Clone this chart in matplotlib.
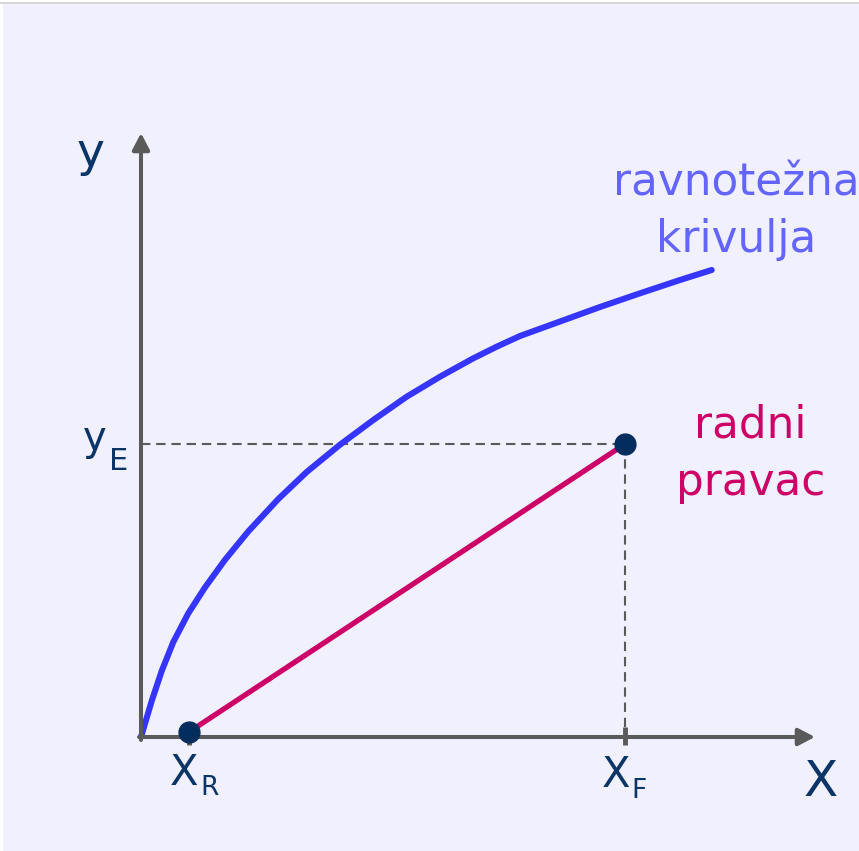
import matplotlib.pyplot as plt
from matplotlib.patches import Rectangle

# --- Podaci (jedinice crteža, ishodište u presjeku osi) ---
curve_x = [0.0, 0.107, 0.207, 0.323, 0.473, 0.64, 0.84, 1.073, 1.373, 1.657,
           1.99, 2.323, 2.657, 2.99, 3.323, 3.557, 3.79, 4.19, 4.59, 4.99,
           5.39, 5.707]
curve_y = [0.0, 0.36, 0.66, 0.95, 1.237, 1.496, 1.772, 2.056, 2.38, 2.65,
           2.923, 3.17, 3.403, 3.603, 3.787, 3.903, 4.01, 4.155, 4.30, 4.437,
           4.57, 4.67]

x_r, y_r = 0.48, 0.05      # početak radnog pravca
x_f, y_e = 4.84, 2.93      # kraj radnog pravca

x_axis_end = 6.74
y_axis_end = 6.04

AXIS = '#5a5a5a'
NAVY = '#0b3566'
DOT = '#032d5c'
BLUE = '#3535ff'
LBLUE = '#6464ff'
RED = '#cc0066'
BG = '#f0f0fe'

fig = plt.figure(figsize=(8.59, 8.51), dpi=100, facecolor='white')
fig.patches.append(Rectangle((3 / 859, 0), 1, 1 - 4 / 851, transform=fig.transFigure,
                             facecolor=BG, edgecolor='none', zorder=-10))
fig.lines.append(plt.Line2D([0, 1], [1 - 3 / 851] * 2, transform=fig.transFigure,
                            color='#cfcfcf', lw=1.2, zorder=-9))

ax = fig.add_axes([0, 0, 1, 1])
ax.set_xlim(-1.41, 7.18)
ax.set_ylim(-1.14, 7.37)
ax.axis('off')
ax.patch.set_alpha(0)

# osi sa strelicama
arrow = dict(arrowstyle='-|>,head_length=1.0,head_width=0.52', lw=2.9,
             color=AXIS, mutation_scale=10, shrinkA=0, shrinkB=0)
ax.annotate('', xy=(x_axis_end, 0), xytext=(-0.02, 0), arrowprops=arrow)
ax.annotate('', xy=(0, y_axis_end), xytext=(0, -0.03), arrowprops=arrow)

# crtkane pomoćne linije
ax.plot([0, x_f], [y_e, y_e], color=AXIS, lw=1.5, dashes=(4.5, 2.8))
ax.plot([x_f, x_f], [y_e, 0], color=AXIS, lw=1.5, dashes=(4.5, 2.8))

# oznake na osi x
ax.plot([x_f, x_f], [-0.08, 0.1], color=AXIS, lw=3.5, solid_capstyle='butt')
ax.plot([x_r, x_r], [-0.08, 0], color=AXIS, lw=3.5, solid_capstyle='butt')

# ravnotežna krivulja
ax.plot(curve_x, curve_y, color=BLUE, lw=4.4, solid_capstyle='round',
        solid_joinstyle='round')

# radni pravac
ax.plot([x_r, x_f], [y_r, y_e], color=RED, lw=3.8, zorder=3)
ax.plot([x_r, x_f], [y_r, y_e], 'o', color=DOT, ms=15, zorder=4)

# natpisi
fam = ['DejaVu Sans']
ax.text(-0.50, 5.71, 'y', color=NAVY, fontsize=34, ha='center', va='baseline', family=fam)
ax.text(-0.465, 2.87, 'y', color=NAVY, fontsize=29, ha='center', va='baseline', family=fam)
ax.text(-0.32, 2.67, 'E', color=NAVY, fontsize=22, ha='left', va='baseline', family=fam)

ax.text(0.43, -0.48, 'X', color=NAVY, fontsize=30, ha='center', va='baseline', family=fam)
ax.text(0.59, -0.58, 'R', color=NAVY, fontsize=19, ha='left', va='baseline', family=fam)
ax.text(4.755, -0.50, 'X', color=NAVY, fontsize=30, ha='center', va='baseline', family=fam)
ax.text(4.90, -0.61, 'F', color=NAVY, fontsize=19, ha='left', va='baseline', family=fam)
ax.text(6.80, -0.59, 'X', color=NAVY, fontsize=36, ha='center', va='baseline', family=fam)

ax.text(5.95, 5.41, 'ravnotežna', color=LBLUE, fontsize=31.5, ha='center', va='baseline', family=fam)
ax.text(5.95, 4.85, 'krivulja', color=LBLUE, fontsize=31.5, ha='center', va='baseline', family=fam)
ax.text(6.09, 3.00, 'radni', color=RED, fontsize=31.5, ha='center', va='baseline', family=fam)
ax.text(6.10, 2.42, 'pravac', color=RED, fontsize=31.5, ha='center', va='baseline', family=fam)

fig.savefig('out.png', dpi=100, facecolor=fig.get_facecolor())
